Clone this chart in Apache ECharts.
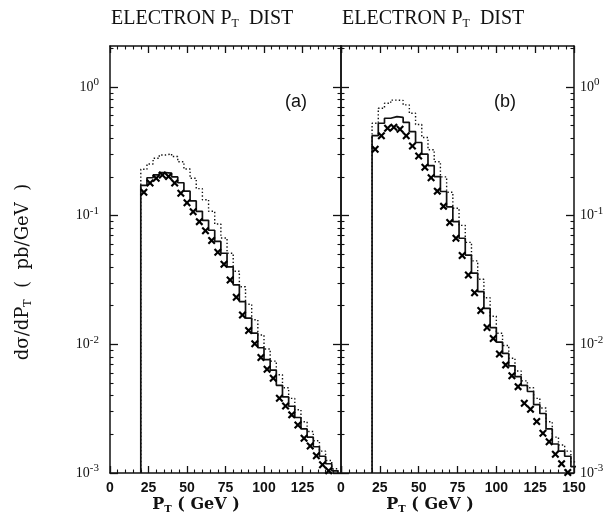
<!DOCTYPE html>
<html><head><meta charset="utf-8">
<script src="https://cdn.jsdelivr.net/npm/echarts@6/dist/echarts.min.js"></script>
<style>html,body{margin:0;padding:0;background:#fff}#c{width:613px;height:517px}</style>
</head><body><div id="c"></div>
<script>
// Bin edges (GeV), 4 GeV bins
const binEdges = [20,24,28,32,36,40,44,48,52,56,60,64,68,72,76,80,84,88,92,96,100,104,108,112,116,120,124,128,132,136,140,144,148,152];
// Panel (a)
const aSolid = [0.172,0.197,0.207,0.216,0.214,0.200,0.180,0.155,0.130,0.108,0.092,0.077,0.063,0.051,0.040,0.029,0.0215,0.016,0.0122,0.0094,0.0076,0.0063,0.0048,0.0039,0.0033,0.0027,0.0022,0.0019,0.0016,0.00135,0.00118,0.00104,0.0008];
const aDotted = [0.229,0.252,0.279,0.296,0.302,0.288,0.262,0.230,0.195,0.162,0.133,0.108,0.086,0.067,0.051,0.037,0.028,0.0205,0.0155,0.0118,0.0092,0.0074,0.0058,0.0046,0.0038,0.0031,0.0025,0.0021,0.00178,0.00148,0.00125,0.00108,0.0008];
const aCross = [0.152,0.179,0.195,0.207,0.201,0.179,0.149,0.126,0.107,0.0898,0.0764,0.064,0.0519,0.0419,0.0316,0.0232,0.0169,0.0128,0.0101,0.0079,0.0064,0.00545,0.00381,0.00332,0.00283,0.00236,0.00186,0.00162,0.00136,0.00116,0.00104,null,null];
// Panel (b)
const bSolid = [0.418,0.522,0.571,0.588,0.580,0.530,0.450,0.370,0.300,0.245,0.201,0.154,0.117,0.0897,0.0667,0.0494,0.0358,0.0257,0.019,0.0135,0.0104,0.0085,0.0068,0.0056,0.0048,0.0043,0.0034,0.0029,0.0022,0.00168,0.00148,0.00135,0.00112];
const bDotted = [0.522,0.683,0.747,0.790,0.785,0.725,0.625,0.510,0.405,0.325,0.262,0.200,0.152,0.114,0.084,0.062,0.0445,0.032,0.023,0.0165,0.0122,0.0098,0.0078,0.0062,0.0052,0.0046,0.0038,0.0032,0.0025,0.0019,0.00165,0.00148,0.00122];
const bCross = [0.328,0.418,0.477,0.486,0.469,0.418,0.348,0.291,0.238,0.197,0.155,0.118,0.0883,0.0667,0.0489,0.0346,0.0252,0.0183,0.0135,0.0111,0.0084,0.00692,0.00569,0.00469,0.00348,0.00313,0.00251,0.00204,0.00175,0.0014,0.00118,0.00101,null];
// Axis ticks
const xTicks = [0,25,50,75,100,125,150];
const yMajor = [0.001,0.01,0.1,1];
const Y_MIN = 0.001, Y_MAX = 2.08;

const INK = '#111';
function outline(edges, vals){
  const pts = [[edges[0], Y_MIN]];
  for (let i = 0; i < vals.length; i++){
    pts.push([edges[i], vals[i]]);
    pts.push([edges[i+1], vals[i]]);
  }
  pts.push([edges[vals.length], Y_MIN]);
  return pts;
}
function centers(edges, vals){
  const out = [];
  for (let i = 0; i < vals.length; i++){
    if (vals[i] != null) out.push([(edges[i]+edges[i+1])/2, vals[i]]);
  }
  return out;
}
const X_PATH = 'path://M0,1.9L1.9,0L5,3.1L8.1,0L10,1.9L6.9,5L10,8.1L8.1,10L5,6.9L1.9,10L0,8.1L3.1,5Z';

function xAxis(gi, pos, showLabels, hideLast){
  return {
    type:'value', gridIndex:gi, position:pos, min:0, max:150, interval:25,
    axisLine:{show:true, onZero:false, lineStyle:{color:INK, width:1.5}},
    axisTick:{show:true, inside:true, length:7, lineStyle:{color:INK, width:1.3}},
    minorTick:{show:true, splitNumber:5, length:3.5, lineStyle:{color:INK, width:1.1}},
    splitLine:{show:false}, minorSplitLine:{show:false},
    axisLabel:{show:showLabels, margin:8, color:'#111', fontFamily:'Liberation Sans', fontWeight:'bold', fontSize:14,
      formatter: v => (hideLast && v === 150) ? '' : String(v)}
  };
}
function yAxis(gi, pos, showLabels){
  return {
    type:'log', logBase:10, gridIndex:gi, position:pos, min:Y_MIN, max:Y_MAX,
    axisLine:{show:true, onZero:false, lineStyle:{color:INK, width:1.5}},
    axisTick:{show:true, inside:true, length:8, customValues:yMajor, lineStyle:{color:INK, width:1.3}},
    minorTick:{show:true, splitNumber:9, length:3.5, lineStyle:{color:INK, width:1.1}},
    splitLine:{show:false}, minorSplitLine:{show:false},
    axisLabel:{show:showLabels, customValues:yMajor, margin: pos==='left' ? 11 : 6,
      formatter: v => '{b|10}{s|' + Math.round(Math.log10(v)) + '}',
      rich:{ b:{fontFamily:'Liberation Serif', fontSize:14, color:'#111'},
             s:{fontFamily:'Liberation Serif', fontSize:11, color:'#111', padding:[0,0,9,0]} } }
  };
}

const chart = echarts.init(document.getElementById('c'), null, {renderer:'canvas'});
const histLine = (data, xi, yi, dotted) => ({
  type:'line', xAxisIndex:xi, yAxisIndex:yi, data, showSymbol:false, symbol:'none', clip:true,
  lineStyle:{color:INK, width: dotted ? 1.4 : 1.7, type: dotted ? [1.4, 2.2] : 'solid'},
  animation:false, z: dotted ? 2 : 3
});
const crosses = (data, xi, yi) => ({
  type:'scatter', xAxisIndex:xi, yAxisIndex:yi, data, symbol:X_PATH, symbolSize:8,
  itemStyle:{color:'#000', opacity:1}, clip:true, animation:false, z:4
});

const serifRich = {
  m:{fontFamily:'Liberation Serif', fontSize:20, fill:'#111'},
  s:{fontFamily:'Liberation Serif', fontSize:12, fill:'#111', padding:[9,0,0,0]}
};
const nameRich = {
  m:{fontFamily:'DejaVu Serif', fontWeight:'bold', fontSize:16, fill:'#111'},
  s:{fontFamily:'DejaVu Serif', fontWeight:'bold', fontSize:10, fill:'#111', padding:[9,0,0,0]}
};

chart.setOption({
  animation:false,
  backgroundColor:'#fff',
  grid:[
    {left:110, top:46, width:231, height:427, containLabel:false},
    {left:341, top:46, width:233, height:427, containLabel:false}
  ],
  xAxis:[ xAxis(0,'bottom',true,true), xAxis(0,'top',false,false), xAxis(1,'bottom',true,false), xAxis(1,'top',false,false) ],
  yAxis:[ yAxis(0,'left',true), yAxis(0,'right',false), yAxis(1,'left',false), yAxis(1,'right',true) ],
  series:[
    histLine(outline(binEdges, aDotted), 0, 0, true),
    histLine(outline(binEdges, aSolid), 0, 0, false),
    crosses(centers(binEdges, aCross), 0, 0),
    histLine(outline(binEdges, bDotted), 2, 2, true),
    histLine(outline(binEdges, bSolid), 2, 2, false),
    crosses(centers(binEdges, bCross), 2, 2)
  ],
  graphic:[
    {type:'text', x:111, y:19, style:{text:'{m|ELECTRON P}{s|T}{m|  DIST}', rich:serifRich, verticalAlign:'middle'}},
    {type:'text', x:342, y:19, style:{text:'{m|ELECTRON P}{s|T}{m|  DIST}', rich:serifRich, verticalAlign:'middle'}},
    {type:'text', x:296, y:102, style:{text:'(a)', font:'18px "Liberation Sans"', fill:'#111', align:'center', verticalAlign:'middle'}},
    {type:'text', x:505, y:102, style:{text:'(b)', font:'18px "Liberation Sans"', fill:'#111', align:'center', verticalAlign:'middle'}},
    {type:'text', x:196, y:505, style:{text:'{m|P}{s|T}{m| ( GeV )}', rich:nameRich, align:'center', verticalAlign:'middle'}},
    {type:'text', x:430, y:505, style:{text:'{m|P}{s|T}{m| ( GeV )}', rich:nameRich, align:'center', verticalAlign:'middle'}},
    {type:'text', x:23, y:272, rotation:Math.PI/2,
      style:{text:'{m|dσ/dP}{s|T}{m|  (  pb/GeV  )}', rich:{
        m:{fontFamily:'DejaVu Serif', fontSize:18, fill:'#111'},
        s:{fontFamily:'DejaVu Serif', fontSize:11, fill:'#111', padding:[10,0,0,0]}}, align:'center', verticalAlign:'middle'}}
  ]
});
</script></body></html>
